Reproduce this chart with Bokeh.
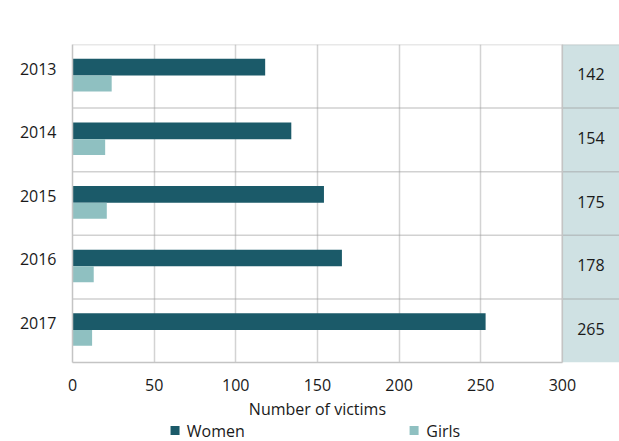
from bokeh.plotting import figure
from bokeh.layouts import column
from bokeh.models import (Range1d, FixedTicker, Label, ColumnDataSource)
from bokeh.core.properties import value
from bokeh.embed import file_html
from bokeh.resources import INLINE

years = ["2013", "2014", "2015", "2016", "2017"]
women = [118, 134, 154, 165, 253]
girls = [24, 20, 21, 13, 12]
totals = [142, 154, 175, 178, 265]
x_ticks = [0, 50, 100, 150, 200, 250, 300]
series = ["Women", "Girls"]
x_title = "Number of victims"

FONT = "Open Sans"
FS = "16px"
TXT = "#1a1a1a"
C_WOMEN = "#1b5a69"
C_GIRLS = "#8fc0c1"
C_PANEL = "#cfe1e3"
GRID = "#d3d3d3"

W = 619
H_MAIN = 396
H_LEG = 45
LEFT = 72

axis_max = x_ticks[-1]
panel_end = 335

idx = list(range(len(years)))
src = ColumnDataSource(dict(
    yw=[i + 0.357 for i in idx],
    yg=[i + 0.613 for i in idx],
    yt=[i + 0.47 for i in idx],
    women=women, girls=girls,
    tot=[str(t) for t in totals],
    xt=[(axis_max + panel_end) / 2 for _ in idx],
))

p = figure(width=W, height=H_MAIN, output_backend="svg", toolbar_location=None,
           x_range=Range1d(0, panel_end), y_range=Range1d(len(years), 0),
           min_border_left=LEFT, min_border_right=0, min_border_top=44, min_border_bottom=34)
p.outline_line_color = None

p.xaxis.ticker = FixedTicker(ticks=x_ticks)
p.xgrid.grid_line_color = GRID
p.xgrid.grid_line_width = 1.5
p.ygrid.grid_line_color = None

p.quad(left=axis_max, right=panel_end, bottom=len(years), top=0,
       fill_color=C_PANEL, line_color=None)
p.segment(x0=[0] * len(years), x1=[panel_end] * len(years), y0=idx, y1=idx,
          line_color="#9a9a9a", line_alpha=0.45, line_width=1.5)
p.segment(x0=[axis_max], x1=[axis_max], y0=[0], y1=[len(years)],
          line_color="#c4c4c4", line_width=1.5)

p.hbar(y="yw", right="women", left=0, height=0.262, source=src,
       fill_color=C_WOMEN, line_color=None)
p.hbar(y="yg", right="girls", left=0, height=0.25, source=src,
       fill_color=C_GIRLS, line_color=None)

p.text(x="xt", y="yt", text="tot", source=src, text_font=value(FONT),
       text_font_size=FS, text_color=TXT, text_align="center", text_baseline="middle")

p.add_layout(Label(x=(axis_max + panel_end) / 2 - 1.5, y=-0.33, text="Total",
                   text_font=FONT, text_font_size=FS, text_color=TXT,
                   text_align="center", text_baseline="middle"))

xa = p.xaxis[0]
xa.bounds = (0, axis_max)
xa.axis_line_color = "#c4c4c4"
xa.axis_line_width = 1.5
xa.major_tick_line_color = None
xa.minor_tick_line_color = None
xa.major_label_standoff = 10
xa.major_label_text_font = FONT
xa.major_label_text_font_size = FS
xa.major_label_text_color = TXT

ya = p.yaxis[0]
ya.ticker = FixedTicker(ticks=[i + 0.38 for i in idx])
ya.major_label_overrides = {i + 0.38: y for i, y in zip(idx, years)}
ya.axis_line_color = "#c4c4c4"
ya.axis_line_width = 1.5
ya.major_tick_line_color = None
ya.minor_tick_line_color = None
ya.major_label_standoff = 10
ya.major_label_text_font = FONT
ya.major_label_text_font_size = FS
ya.major_label_text_color = TXT

# strip below: axis title + legend. Shares the main x scale (frames are aligned by the column).
lg = figure(width=W, height=H_LEG, output_backend="svg", toolbar_location=None,
            x_range=p.x_range, y_range=Range1d(0, H_LEG),
            min_border=0, min_border_left=LEFT, x_axis_type=None, y_axis_type=None)
lg.outline_line_color = None
lg.grid.grid_line_color = None
lg.text(x=[axis_max / 2], y=[H_LEG - 12], text=[x_title],
        text_font=value(FONT), text_font_size=FS, text_color=TXT,
        text_align="center", text_baseline="middle")
leg_src = ColumnDataSource(dict(
    sx=[62.8, 209.2], tx=[70.0, 216.7], y=[11] * 2,
    color=[C_WOMEN, C_GIRLS], label=series))
lg.rect(x="sx", y="y", width=9, height=9, width_units="screen", height_units="screen",
        fill_color="color", line_color=None, source=leg_src)
lg.text(x="tx", y="y", text="label", source=leg_src, text_font=value(FONT),
        text_font_size=FS, text_color=TXT, text_align="left", text_baseline="middle")

layout = column(p, lg, spacing=0)
open("out.html", "w").write(file_html(layout, INLINE))
